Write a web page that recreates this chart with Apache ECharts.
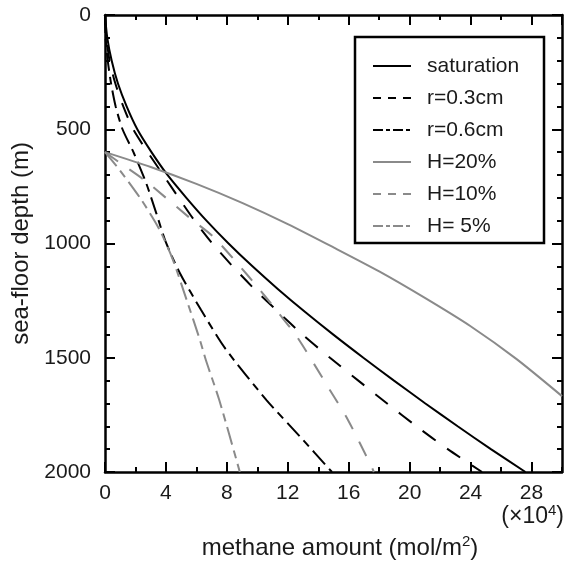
<!DOCTYPE html>
<html>
<head>
<meta charset="utf-8">
<script src="https://cdn.jsdelivr.net/npm/echarts@6/dist/echarts.min.js"></script>
<style>
  html, body { margin: 0; padding: 0; background: #fff; }
  #chart { width: 568px; height: 564px; }
</style>
</head>
<body>
<div id="chart"></div>
<script>
// depth (m) and methane amount (x10^4 mol/m2)
const satDepth = [0, 100, 200, 300, 400, 500, 600, 700, 800, 900, 1000, 1100, 1200, 1300, 1400, 1500, 1600, 1700, 1800, 1900, 2000];
const satAmount = [0, 0.15, 0.44, 0.85, 1.42, 2.12, 3.05, 4.1, 5.34, 6.66, 8.11, 9.68, 11.36, 13.14, 15.01, 16.96, 18.97, 21.03, 23.15, 25.33, 27.6];

const r03Depth = [0, 100, 200, 300, 400, 500, 600, 700, 800, 900, 1000, 1100, 1200, 1300, 1400, 1500, 1600, 1700, 1800, 1900, 2000];
const r03Amount = [0, 0.1, 0.3, 0.68, 1.2, 1.85, 2.8, 3.82, 4.84, 5.88, 7.05, 8.38, 9.82, 11.38, 12.99, 14.77, 16.63, 18.52, 20.45, 22.5, 24.75];

const r06Depth = [0, 100, 200, 300, 400, 500, 605, 737, 868, 992, 1130, 1290, 1460, 1685, 1845, 2000];
const r06Amount = [0, 0.04, 0.18, 0.4, 0.7, 1.15, 1.9, 2.71, 3.37, 3.98, 4.92, 6.3, 7.9, 10.6, 12.8, 14.9];

const h20Amount = [0, 3, 6, 9, 12, 15, 18, 21, 24, 27, 30];
const h20Depth = [600, 665, 739, 822, 915, 1017, 1122, 1238, 1362, 1505, 1668];

const h10Depth = [600, 642, 729, 890, 970, 1080, 1203, 1305, 1408, 1641, 1772, 1977, 2000];
const h10Amount = [0, 0.87, 2.71, 5.6, 7.1, 8.6, 10.17, 11.4, 12.6, 14.76, 15.95, 17.5, 17.65];

const h5Depth = [600, 678, 810, 941, 1072, 1247, 1422, 1510, 1685, 2000];
const h5Amount = [0, 0.96, 2.4, 3.59, 4.46, 5.36, 6.23, 6.62, 7.5, 8.85];

const seriesNames = ['saturation', 'r=0.3cm', 'r=0.6cm', 'H=20%', 'H=10%', 'H= 5%'];

const font = 'Liberation Sans, Arial, Helvetica, sans-serif';
const grey = '#8a8a8a';
const ink = '#1a1a1a';

function pairs(amount, depth) {
    return amount.map((a, i) => [a, depth[i]]);
}

function line(name, amount, depth, color, type) {
    return {
        name: name,
        type: 'line',
        data: pairs(amount, depth),
        xAxisIndex: 0,
        yAxisIndex: 0,
        symbol: 'none',
        smooth: 0.25,
        clip: true,
        lineStyle: { color: color, width: 2, type: type },
        itemStyle: { color: color }
    };
}

// dash patterns: plot lines are drawn with longer dashes than the legend keys
const dashed = [16, 14];
const dashDot = [18, 6, 8, 6];
const keyDashed = [8, 7];
const keyDashDot = [10, 3, 4, 3];

const tickStyle = { color: '#000', width: 2 };

// one axis per frame side; minor ticks come from label-less axes with a finer interval
function xAx(position, interval, major) {
    return {
        type: 'value', min: 0, max: 30, interval: interval, position: position,
        axisLine: { show: major, onZero: false, lineStyle: { color: '#000', width: 2.5 } },
        axisTick: { inside: true, length: major ? 10 : 5, lineStyle: tickStyle },
        splitLine: { show: false },
        axisLabel: {
            show: major && position === 'bottom',
            fontSize: 21, color: ink, margin: 11, fontFamily: font, showMaxLabel: false
        }
    };
}

function yAx(position, interval, major) {
    const ax = {
        type: 'value', min: 0, max: 2000, interval: interval, inverse: true, position: position,
        axisLine: { show: major, onZero: false, lineStyle: { color: '#000', width: 2.5 } },
        axisTick: { inside: true, length: major ? 10 : 5, lineStyle: tickStyle },
        splitLine: { show: false },
        axisLabel: {
            show: major && position === 'left',
            fontSize: 21, color: ink, margin: 14, fontFamily: font, formatter: v => String(v)
        }
    };
    if (major && position === 'left') {
        ax.name = 'sea-floor depth (m)';
        ax.nameLocation = 'middle';
        ax.nameGap = 72;
        ax.nameRotate = 90;
        ax.nameTextStyle = { fontSize: 24, color: ink, fontFamily: font };
    }
    return ax;
}

const myChart = echarts.init(document.getElementById('chart'), null, { renderer: 'canvas' });
const option = {
    backgroundColor: '#fff',
    animation: false,
    textStyle: { fontFamily: font },
    grid: { left: 105, top: 15, width: 457, height: 457, containLabel: false, outerBoundsMode: 'none' },
    xAxis: [xAx('bottom', 4, true), xAx('top', 4, true), xAx('bottom', 2, false), xAx('top', 2, false)],
    yAxis: [yAx('left', 500, true), yAx('right', 500, true), yAx('left', 100, false), yAx('right', 100, false)],
    legend: {
        orient: 'vertical',
        left: 367, top: 50,
        itemWidth: 38, itemHeight: 14, itemGap: 10,
        data: [
            { name: seriesNames[0] },
            { name: seriesNames[1], lineStyle: { type: keyDashed } },
            { name: seriesNames[2], lineStyle: { type: keyDashDot } },
            { name: seriesNames[3] },
            { name: seriesNames[4], lineStyle: { type: keyDashed } },
            { name: seriesNames[5], lineStyle: { type: keyDashDot } }
        ],
        itemStyle: { opacity: 0 },
        textStyle: { fontSize: 21, color: ink, lineHeight: 22, fontFamily: font, padding: [0, 0, 0, 11] }
    },
    graphic: [
        {
            type: 'rect',
            shape: { x: 355, y: 37, width: 189, height: 206 },
            style: { fill: 'none', stroke: '#000', lineWidth: 2.5 },
            z: 10
        },
        {
            type: 'text', x: 564, y: 503,
            style: {
                text: '{a|(×10}{s|4}{a|)}',
                align: 'right',
                rich: {
                    a: { fontSize: 23, fontFamily: font, fill: ink, lineHeight: 28 },
                    s: { fontSize: 15, fontFamily: font, fill: ink, verticalAlign: 'top', lineHeight: 28 }
                }
            }
        },
        {
            type: 'text', x: 340, y: 534,
            style: {
                text: '{a|methane amount (mol/m}{s|2}{a|)}',
                align: 'center',
                rich: {
                    a: { fontSize: 24, fontFamily: font, fill: ink, lineHeight: 28 },
                    s: { fontSize: 15, fontFamily: font, fill: ink, verticalAlign: 'top', lineHeight: 28 }
                }
            }
        }
    ],
    series: [
        line(seriesNames[0], satAmount, satDepth, '#000', 'solid'),
        line(seriesNames[1], r03Amount, r03Depth, '#000', dashed),
        line(seriesNames[2], r06Amount, r06Depth, '#000', dashDot),
        line(seriesNames[3], h20Amount, h20Depth, grey, 'solid'),
        line(seriesNames[4], h10Amount, h10Depth, grey, dashed),
        line(seriesNames[5], h5Amount, h5Depth, grey, dashDot)
    ]
};
myChart.setOption(option);
</script>
</body>
</html>
